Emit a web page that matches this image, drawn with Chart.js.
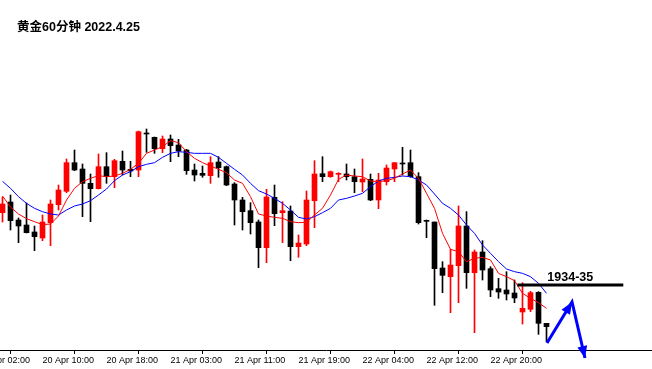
<!DOCTYPE html>
<html><head><meta charset="utf-8">
<script src="https://cdn.jsdelivr.net/npm/chart.js@4.4.1/dist/chart.umd.min.js"></script>
<style>html,body{margin:0;padding:0;background:#fff;}canvas{display:block;}</style>
</head><body>
<canvas id="c" width="652" height="369"></canvas>
<script>
const titleText = '黄金60分钟 2022.4.25';

const categories = [
 '20 Apr 05:00','20 Apr 06:00','20 Apr 07:00','20 Apr 08:00','20 Apr 09:00','20 Apr 10:00','20 Apr 11:00','20 Apr 12:00','20 Apr 13:00','20 Apr 14:00',
 '20 Apr 15:00','20 Apr 16:00','20 Apr 17:00','20 Apr 18:00','20 Apr 19:00','20 Apr 20:00','20 Apr 21:00','20 Apr 22:00','20 Apr 23:00',
 '21 Apr 01:00','21 Apr 02:00','21 Apr 03:00','21 Apr 04:00','21 Apr 05:00','21 Apr 06:00','21 Apr 07:00','21 Apr 08:00','21 Apr 09:00','21 Apr 10:00',
 '21 Apr 11:00','21 Apr 12:00','21 Apr 13:00','21 Apr 14:00','21 Apr 15:00','21 Apr 16:00','21 Apr 17:00','21 Apr 18:00','21 Apr 19:00','21 Apr 20:00',
 '21 Apr 21:00','21 Apr 22:00','21 Apr 23:00',
 '22 Apr 01:00','22 Apr 02:00','22 Apr 03:00','22 Apr 04:00','22 Apr 05:00','22 Apr 06:00','22 Apr 07:00','22 Apr 08:00','22 Apr 09:00','22 Apr 10:00',
 '22 Apr 11:00','22 Apr 12:00','22 Apr 13:00','22 Apr 14:00','22 Apr 15:00','22 Apr 16:00','22 Apr 17:00','22 Apr 18:00','22 Apr 19:00','22 Apr 20:00',
 '22 Apr 21:00','22 Apr 22:00','22 Apr 23:00',
 '25 Apr 01:00','25 Apr 02:00','25 Apr 03:00','25 Apr 04:00'
];

const opens = [1945.35,1946.95,1944.25,1943.50,1942.45,1941.55,1943.85,1946.55,1948.55,1952.85,
 1951.90,1949.75,1948.95,1952.25,1950.75,1953.05,1951.85,1951.75,1957.30,1956.65,
 1954.95,1956.40,1955.50,1954.75,1951.75,1951.25,1950.90,1952.95,1952.25,1949.65,
 1947.25,1945.65,1943.95,1940.10,1947.65,1945.35,1945.60,1940.25,1940.65,1947.15,
 1951.20,1950.75,1951.10,1951.15,1950.75,1949.95,1950.35,1947.25,1950.00,1951.90,
 1952.80,1952.85,1950.75,1944.15,1943.95,1937.05,1935.75,1937.40,1943.35,1936.35,
 1939.45,1936.95,1933.95,1933.75,1933.30,1930.45,1930.85,1933.40,1928.75];
const highs = [1947.70,1948.00,1944.55,1946.80,1943.35,1945.00,1947.25,1949.50,1953.40,1954.75,
 1952.65,1951.15,1954.15,1954.35,1953.35,1954.60,1953.05,1957.60,1957.90,1956.70,
 1956.85,1957.00,1956.35,1954.85,1952.65,1952.35,1953.75,1953.75,1952.35,1949.85,
 1947.65,1946.85,1944.25,1948.85,1949.50,1947.00,1946.35,1942.00,1948.60,1953.15,
 1953.75,1951.60,1951.35,1952.65,1951.90,1953.40,1951.15,1951.25,1952.50,1952.85,
 1955.15,1954.75,1951.35,1944.25,1943.95,1938.00,1939.85,1946.35,1945.50,1939.75,
 1941.15,1937.25,1935.50,1936.50,1935.25,1934.85,1933.55,1933.50,1928.75];
const lows = [1943.95,1942.75,1940.85,1942.30,1939.65,1941.15,1940.40,1945.75,1948.35,1951.65,
 1944.75,1944.00,1948.90,1949.75,1949.10,1951.00,1950.75,1950.75,1954.40,1954.25,
 1954.35,1953.00,1953.75,1951.10,1950.10,1950.65,1949.75,1950.65,1949.40,1943.50,
 1942.75,1942.15,1937.10,1937.85,1943.40,1940.85,1938.15,1938.65,1940.40,1943.10,
 1950.00,1950.65,1950.00,1950.25,1948.35,1948.50,1947.15,1945.95,1949.50,1950.00,
 1951.00,1950.65,1943.65,1941.60,1931.45,1933.35,1930.35,1931.85,1934.00,1927.35,
 1935.25,1932.75,1932.50,1932.25,1931.85,1928.65,1930.50,1927.10,1926.00];
const closes = [1946.65,1944.15,1943.35,1942.35,1941.75,1943.95,1946.65,1948.75,1952.85,1951.75,
 1949.75,1948.95,1952.25,1950.75,1953.15,1951.75,1951.60,1957.50,1957.15,1954.95,
 1956.40,1955.40,1954.60,1951.65,1951.00,1950.95,1952.85,1952.10,1949.50,1947.25,
 1945.50,1943.85,1940.10,1947.70,1945.20,1945.65,1940.25,1940.80,1947.25,1951.15,
 1950.75,1951.50,1951.25,1950.75,1950.00,1950.40,1947.25,1950.25,1952.05,1952.85,
 1952.65,1950.75,1943.85,1944.05,1936.95,1935.95,1937.50,1943.35,1936.35,1939.45,
 1936.75,1933.75,1933.45,1933.15,1932.55,1931.00,1933.35,1928.75,1928.25];

const maFast = [1947.85,1946.20,1945.15,1944.45,1944.00,1943.55,1943.65,1944.85,1947.25,1949.00,
 1950.00,1950.50,1950.90,1950.75,1950.85,1951.25,1951.85,1952.75,1954.25,1954.75,
 1955.25,1956.15,1955.85,1954.50,1953.50,1952.85,1952.35,1951.85,1951.35,1950.25,
 1949.75,1947.75,1945.15,1944.85,1944.65,1944.50,1944.00,1943.85,1943.90,1945.00,
 1946.00,1948.00,1950.35,1951.00,1950.85,1950.75,1950.10,1950.00,1950.15,1950.50,
 1951.15,1951.75,1950.50,1948.25,1946.00,1942.25,1939.85,1939.50,1938.00,1938.50,
 1938.65,1938.25,1936.25,1935.75,1935.15,1933.25,1932.50,1931.85,1931.00];
const maSlow = [1950.05,1949.00,1947.75,1946.75,1946.00,1945.50,1945.15,1945.00,1945.75,1946.35,
 1946.65,1947.15,1948.00,1948.90,1950.15,1951.00,1951.50,1952.25,1952.60,1952.85,
 1953.65,1954.25,1954.50,1954.40,1954.25,1954.25,1954.25,1953.65,1952.75,1951.85,
 1951.00,1949.75,1948.65,1948.15,1947.50,1946.75,1945.75,1944.65,1944.40,1944.75,
 1945.35,1946.00,1947.25,1947.50,1947.85,1948.25,1949.25,1950.10,1950.50,1950.65,
 1950.85,1950.75,1950.25,1949.50,1948.15,1946.75,1946.00,1945.00,1943.50,1942.25,
 1940.50,1939.25,1938.00,1936.90,1936.50,1936.25,1935.75,1934.75,1933.25];

const tickIndex = [-3,5,13,21,29,37,45,53,61];
const tickLabels = ['20 Apr 02:00','20 Apr 10:00','20 Apr 18:00','21 Apr 03:00','21 Apr 11:00','21 Apr 19:00','22 Apr 04:00','22 Apr 12:00','22 Apr 20:00'];

const levelPrice = 1934.5;
const levelLabel = '1934-35';
const levelFrom = 64.35, levelTo = 77.6;

const pathX = [68.06, 71.19, 72.81];
const pathY = [1925.80, 1931.95, 1923.55];

const upColor = '#ff0000', downColor = '#000000';
const candleColors = closes.map((c, i) => c >= opens[i] ? upColor : downColor);
const bodies = categories.map((_, i) => ({x: i, y: [opens[i], closes[i]]}));
const wicks = categories.map((_, i) => ({x: i, y: [lows[i], highs[i]]}));

function arrowHead(ctx, fx, fy, tx, ty, len, half) {
  const a = Math.atan2(ty - fy, tx - fx);
  const bx = tx - len * Math.cos(a), by = ty - len * Math.sin(a);
  ctx.beginPath();
  ctx.moveTo(tx, ty);
  ctx.lineTo(bx + half * Math.sin(a), by - half * Math.cos(a));
  ctx.lineTo(bx - half * Math.sin(a), by + half * Math.cos(a));
  ctx.closePath();
  ctx.fill();
}

const overlay = {
  id: 'overlay',
  afterDatasetsDraw(chart) {
    const ctx = chart.ctx, xs = chart.scales.x, ys = chart.scales.y;
    const p = pathX.map((x, i) => [xs.getPixelForValue(x), ys.getPixelForValue(pathY[i])]);
    ctx.save();
    ctx.fillStyle = '#0000ff';
    arrowHead(ctx, p[0][0], p[0][1], p[1][0], p[1][1], 12, 5);
    arrowHead(ctx, p[1][0], p[1][1], p[2][0], p[2][1], 12, 5);
    ctx.restore();
  },
  afterDraw(chart) {
    const ctx = chart.ctx, xs = chart.scales.x, ys = chart.scales.y;
    ctx.save();
    ctx.fillStyle = '#000';
    ctx.textBaseline = 'alphabetic';
    ctx.textAlign = 'left';
    ctx.font = 'bold 12.5px "Liberation Sans", "Noto Sans CJK SC", sans-serif';
    ctx.fillText(titleText, 17, 30.5);
    ctx.textAlign = 'center';
    ctx.font = 'bold 12.5px "Liberation Sans", Arial, sans-serif';
    const cx = xs.getPixelForValue((levelFrom + levelTo) / 2);
    const cy = ys.getPixelForValue(levelPrice);
    ctx.fillText(levelLabel, cx, cy - 4.5);
    ctx.restore();
  }
};

new Chart(document.getElementById('c'), {
  type: 'bar',
  data: {
    datasets: [
      {type: 'line', data: pathX.map((x, i) => ({x, y: pathY[i]})), borderColor: '#0000ff', borderWidth: 3,
       pointRadius: 0, clip: false, order: 0, tension: 0},
      {type: 'line', data: [{x: levelFrom, y: levelPrice}, {x: levelTo, y: levelPrice}], borderColor: '#000',
       borderWidth: 3, pointRadius: 0, order: 1},
      {type: 'line', data: maFast.map((v, i) => ({x: i, y: v})), borderColor: '#ff0000', borderWidth: 1,
       pointRadius: 0, order: 2, tension: 0},
      {type: 'line', data: maSlow.map((v, i) => ({x: i, y: v})), borderColor: '#0000ff', borderWidth: 1,
       pointRadius: 0, order: 3, tension: 0},
      {type: 'bar', data: bodies, backgroundColor: candleColors, borderWidth: 0, barThickness: 5,
       grouped: false, minBarLength: 1, order: 4},
      {type: 'bar', data: wicks, backgroundColor: candleColors, borderWidth: 0, barThickness: 1,
       grouped: false, order: 5}
    ]
  },
  options: {
    responsive: false,
    animation: false,
    layout: {padding: 0},
    plugins: {legend: {display: false}, tooltip: {enabled: false}, title: {display: false}},
    scales: {
      x: {
        type: 'linear', min: -0.3125, max: 81.1875, offset: false, bounds: 'data',
        grid: {display: true, drawOnChartArea: false, drawTicks: true, tickLength: 4, color: '#000', lineWidth: 1},
        border: {display: true, color: '#000', width: 1},
        ticks: {autoSkip: false, maxRotation: 0, minRotation: 0, align: 'start', padding: 1, color: '#000',
          font: {family: '"Liberation Sans", Arial, sans-serif', size: 9},
          callback: (v, i) => tickLabels[i]},
        afterBuildTicks: s => { s.ticks = tickIndex.map(v => ({value: v})); },
        afterFit: s => { s.height = 19; s.paddingLeft = 0; s.paddingRight = 0; }
      },
      y: {type: 'linear', display: false, min: 1924.75, max: 1977.25}
    }
  },
  plugins: [overlay]
});
</script>
</body></html>
